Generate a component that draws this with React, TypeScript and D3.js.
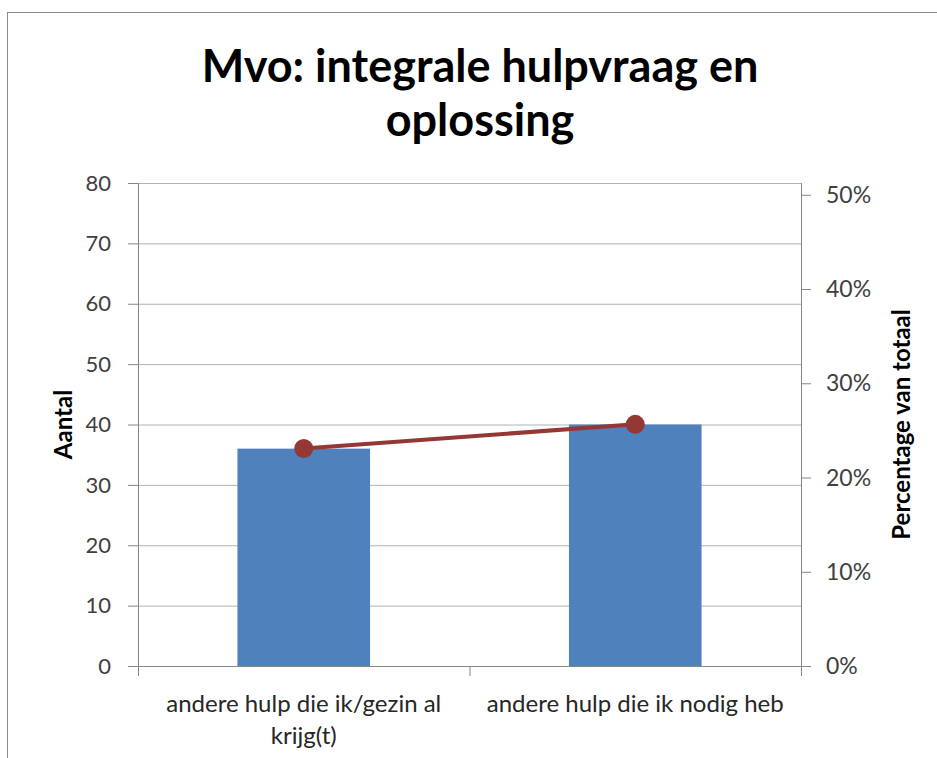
import React from 'react';
import * as d3 from 'd3';

// chart data
const categories = ['andere hulp die ik/gezin al krijg(t)', 'andere hulp die ik nodig heb'];
const categoryLines = [['andere hulp die ik/gezin al', 'krijg(t)'], ['andere hulp die ik nodig heb']];
const counts = [36, 40];
const shares = [0.2308, 0.2564];
const leftTicks = [0, 10, 20, 30, 40, 50, 60, 70, 80];
const rightTicks = [0, 0.1, 0.2, 0.3, 0.4, 0.5];
const titleLines = ['Mvo: integrale hulpvraag en', 'oplossing'];

const W = 937;
const H = 758;
const plot = { left: 138, right: 801, top: 183, bottom: 666 };
const font = 'Lato, "Open Sans", sans-serif';

const App = () => {
  const x = d3
    .scaleBand()
    .domain(categories)
    .range([plot.left, plot.right])
    .paddingInner(0.6)
    .paddingOuter(0.3);

  const y = d3.scaleLinear().domain([0, 80]).range([plot.bottom, plot.top]);
  // secondary axis: 10% steps are a bit larger than the 10-unit steps
  const y2 = d3.scaleLinear().domain([0, 0.5125]).range([plot.bottom, plot.top]);

  const cx = (c) => x(c) + x.bandwidth() / 2;

  const line = d3
    .line()
    .x((d) => d[0])
    .y((d) => d[1]);

  const pts = categories.map((c, i) => [cx(c), y2(shares[i])]);
  const pct = d3.format('.0%');

  // separators between categories on the x axis
  const step = (plot.right - plot.left) / categories.length;
  const xTicks = d3.range(categories.length + 1).map((i) => plot.left + i * step);

  return (
    <svg
      width={W}
      height={H}
      style={{ position: 'absolute', left: 0, top: 0, background: '#fff' }}
      fontFamily={font}
    >
      <rect x={7.5} y={12.5} width={W + 10} height={H + 10} fill="#fff" stroke="#8c8c8c" />

      {titleLines.map((t, i) => (
        <text
          key={t}
          x={480}
          y={82 + i * 54}
          textAnchor="middle"
          fontSize={45}
          fontWeight="bold"
          fill="#000"
        >
          {t}
        </text>
      ))}

      {/* gridlines */}
      {leftTicks.map((t) => (
        <line key={'g' + t} x1={plot.left} x2={plot.right} y1={y(t) + 0.5} y2={y(t) + 0.5} stroke="#b3b3b3" />
      ))}

      {/* bars */}
      {categories.map((c, i) => (
        <rect
          key={'b' + c}
          x={x(c)}
          y={y(counts[i])}
          width={x.bandwidth()}
          height={y(0) - y(counts[i])}
          fill="#4f81bd"
        />
      ))}

      {/* left axis */}
      <line x1={plot.left + 0.5} x2={plot.left + 0.5} y1={plot.top} y2={plot.bottom} stroke="#868686" />
      {leftTicks.map((t) => (
        <g key={'l' + t}>
          <line x1={plot.left - 10} x2={plot.left} y1={y(t) + 0.5} y2={y(t) + 0.5} stroke="#868686" />
          <text x={111} y={y(t)} dy="0.35em" textAnchor="end" fontSize={22} fill="#404040">
            {t}
          </text>
        </g>
      ))}

      {/* right axis */}
      <line x1={plot.right + 0.5} x2={plot.right + 0.5} y1={plot.top} y2={plot.bottom} stroke="#868686" />
      {rightTicks.map((t) => (
        <g key={'r' + t}>
          <line x1={plot.right} x2={plot.right + 10} y1={y2(t) + 0.5} y2={y2(t) + 0.5} stroke="#868686" />
          <text x={826} y={y2(t)} dy="0.35em" fontSize={23} fill="#404040">
            {pct(t)}
          </text>
        </g>
      ))}

      {/* x axis */}
      <line x1={plot.left} x2={plot.right + 1} y1={plot.bottom + 0.5} y2={plot.bottom + 0.5} stroke="#868686" />
      {xTicks.map((t) => (
        <line key={'x' + t} x1={t + 0.5} x2={t + 0.5} y1={plot.bottom} y2={plot.bottom + 10} stroke="#868686" />
      ))}
      {categories.map((c, i) => (
        <text key={'c' + c} x={cx(c)} y={712} textAnchor="middle" fontSize={24} fill="#262626">
          {categoryLines[i].map((l, j) => (
            <tspan key={l} x={cx(c)} dy={j === 0 ? 0 : 32}>
              {l}
            </tspan>
          ))}
        </text>
      ))}

      {/* percentage line */}
      <path d={line(pts)} fill="none" stroke="#953735" strokeWidth={4} />
      {pts.map((p, i) => (
        <circle key={'p' + i} cx={p[0]} cy={p[1]} r={9.5} fill="#953735" />
      ))}

      {/* axis titles */}
      <text
        transform={`translate(72, ${(plot.top + plot.bottom) / 2}) rotate(-90)`}
        textAnchor="middle"
        fontSize={24}
        fontWeight="bold"
        fill="#000"
      >
        Aantal
      </text>
      <text
        transform={`translate(910, ${(plot.top + plot.bottom) / 2}) rotate(-90)`}
        textAnchor="middle"
        fontSize={24}
        fontWeight="bold"
        fill="#000"
      >
        Percentage van totaal
      </text>
    </svg>
  );
};

export default App;
